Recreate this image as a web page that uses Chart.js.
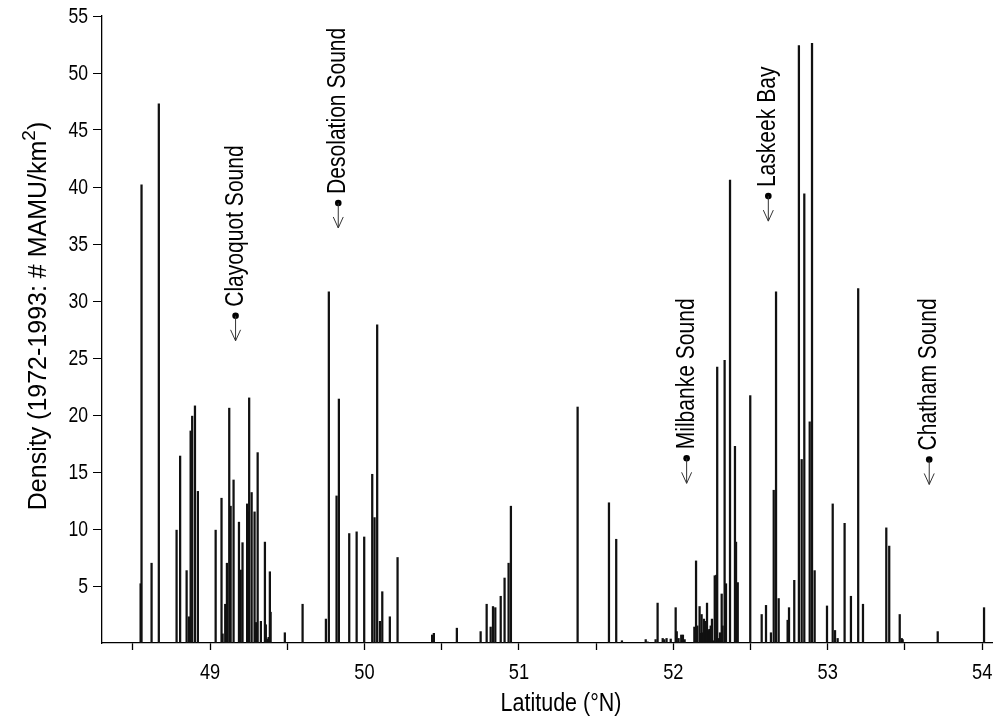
<!DOCTYPE html>
<html>
<head>
<meta charset="utf-8">
<script src="https://cdn.jsdelivr.net/npm/chart.js@4/dist/chart.umd.min.js"></script>
<style>
  html, body { margin: 0; padding: 0; background: #fff; }
  #wrap { width: 993px; height: 718px; position: relative; }
</style>
</head>
<body>
<div id="wrap"><canvas id="densityChart"></canvas></div>
<script>
// latitude (deg N) of each survey block and its density (# MAMU/km2)
const latitudes = [
  48.550, 48.556, 48.621, 48.668, 48.783, 48.806, 48.848, 48.863, 48.874, 48.884,
  48.902, 48.921, 49.036, 49.074, 49.081, 49.098, 49.109, 49.124, 49.133, 49.152,
  49.187, 49.198, 49.210, 49.240, 49.249, 49.253, 49.269, 49.288, 49.297, 49.308,
  49.329, 49.355, 49.361, 49.372, 49.379, 49.387, 49.392, 49.484, 49.599, 49.750,
  49.769, 49.819, 49.834, 49.901, 49.949, 49.998, 50.050, 50.065, 50.082, 50.100,
  50.115, 50.164, 50.214, 50.438, 50.449, 50.598, 50.752, 50.791, 50.817, 50.832,
  50.847, 50.882, 50.907, 50.933, 50.948, 51.380, 51.583, 51.630, 51.667, 51.821,
  51.833, 51.885, 51.898, 51.931, 51.941, 51.956, 51.983, 52.015, 52.022, 52.034,
  52.051, 52.062, 52.073, 52.136, 52.147, 52.155, 52.170, 52.179, 52.183, 52.190,
  52.198, 52.209, 52.218, 52.226, 52.233, 52.242, 52.250, 52.258, 52.268, 52.278,
  52.284, 52.293, 52.302, 52.313, 52.319, 52.332, 52.341, 52.367, 52.399, 52.406,
  52.417, 52.498, 52.572, 52.600, 52.632, 52.650, 52.665, 52.682, 52.740, 52.749,
  52.783, 52.813, 52.831, 52.848, 52.883, 52.898, 52.915, 52.995, 53.032, 53.047,
  53.064, 53.109, 53.150, 53.197, 53.228, 53.379, 53.398, 53.466, 53.479, 53.485,
  53.712, 54.012
];
const densities = [
  5.2, 40.2, 7.0, 47.3, 9.9, 16.4, 6.35, 2.3, 18.6, 19.9,
  20.8, 13.3, 9.9, 12.7, 0.8, 3.4, 7.0, 20.6, 12.0, 14.3,
  10.6, 6.4, 8.8, 12.2, 11.5, 21.5, 13.2, 11.5, 1.8, 16.7,
  1.9, 8.85, 1.6, 0.35, 0.5, 6.25, 2.7, 0.9, 3.4, 2.1,
  30.8, 12.9, 21.4, 9.6, 9.75, 9.3, 14.8, 11.0, 27.9, 1.9,
  4.5, 2.3, 7.5, 0.7, 0.85, 1.3, 1.0, 3.4, 1.4, 3.2,
  3.1, 4.1, 5.7, 7.0, 12.0, 20.7, 12.3, 9.1, 0.2, 0.3,
  0.1, 0.3, 3.5, 0.4, 0.3, 0.4, 0.35, 3.1, 1.0, 0.4,
  0.7, 0.7, 0.3, 1.4, 7.2, 1.5, 3.2, 0.85, 2.5, 0.9,
  2.1, 1.9, 3.5, 1.1, 1.2, 1.5, 2.1, 0.2, 5.9, 5.95,
  24.2, 0.4, 0.9, 4.3, 1.5, 24.8, 5.2, 40.6, 17.25, 8.85,
  5.3, 21.7, 2.5, 3.3, 0.9, 13.4, 30.8, 3.9, 2.0, 3.1,
  5.5, 52.4, 16.1, 39.4, 19.4, 52.6, 6.35, 3.25, 12.2, 1.1,
  0.4, 10.5, 4.1, 31.1, 3.4, 10.1, 8.5, 2.5, 0.4, 0.3,
  1.0, 3.1
];

const xTickValues = [48.5, 49, 49.5, 50, 50.5, 51, 51.5, 52, 52.5, 53, 53.5, 54];
const xTickLabels = ['', '49', '', '50', '', '51', '', '52', '', '53', '', '54'];
const yTickValues = [5, 10, 15, 20, 25, 30, 35, 40, 45, 50, 55];

// marked sounds: name, latitude of the marker, density level of the dot
const siteNames = ['Clayoquot Sound', 'Desolation Sound', 'Milbanke Sound', 'Laskeek Bay', 'Chatham Sound'];
const siteLats = [49.165, 49.83, 52.086, 52.615, 53.657];
const siteLevels = [28.7, 38.6, 16.2, 39.2, 16.1];

const FONT = '"Liberation Sans", Arial, sans-serif';

// text in the original figure is a narrow face, so squeeze along the reading direction
function squeezedText(ctx, text, px, py, k, angle) {
    ctx.save();
    ctx.translate(px, py);
    if (angle) ctx.rotate(angle);
    ctx.scale(k, 1);
    ctx.fillText(text, 0, 0);
    ctx.restore();
}

const figureText = {
    id: 'figureText',
    afterDraw(chart) {
        const { ctx, chartArea } = chart;
        const xs = chart.scales.x;
        const ys = chart.scales.y;
        ctx.save();
        ctx.fillStyle = '#000';

        // y tick labels
        ctx.font = '22px ' + FONT;
        ctx.textAlign = 'right';
        ctx.textBaseline = 'middle';
        yTickValues.forEach(v => {
            squeezedText(ctx, String(v), chartArea.left - 14, ys.getPixelForValue(v) + 1, 0.8);
        });

        // x tick labels
        ctx.textAlign = 'center';
        ctx.textBaseline = 'alphabetic';
        xTickValues.forEach((v, i) => {
            if (xTickLabels[i]) squeezedText(ctx, xTickLabels[i], xs.getPixelForValue(v), 679, 0.83);
        });

        // x title
        ctx.font = '25px ' + FONT;
        squeezedText(ctx, 'Latitude (°N)', 561, 711, 0.86);

        // y title with superscript
        const part1 = 'Density (1972-1993: # MAMU/km';
        ctx.font = '25px ' + FONT;
        const w1 = ctx.measureText(part1).width;
        ctx.font = '19px ' + FONT;
        const w2 = ctx.measureText('2').width;
        ctx.font = '25px ' + FONT;
        const w3 = ctx.measureText(')').width;
        const total = w1 + w2 + w3;
        ctx.save();
        ctx.translate(46, 316 + total / 2);
        ctx.rotate(-Math.PI / 2);
        ctx.textAlign = 'left';
        ctx.fillText(part1, 0, 0);
        ctx.font = '19px ' + FONT;
        ctx.fillText('2', w1, -11);
        ctx.font = '25px ' + FONT;
        ctx.fillText(')', w1 + w2, 0);
        ctx.restore();

        // site markers: label, dot and arrow
        siteNames.forEach((name, i) => {
            const px = xs.getPixelForValue(siteLats[i]);
            const py = ys.getPixelForValue(siteLevels[i]);
            ctx.font = '26px ' + FONT;
            ctx.textAlign = 'left';
            ctx.textBaseline = 'middle';
            squeezedText(ctx, name, px, py - 9, 0.81, -Math.PI / 2);

            ctx.beginPath();
            ctx.arc(px, py, 3.3, 0, Math.PI * 2);
            ctx.fill();

            const tip = py + 25;
            ctx.strokeStyle = '#333';
            ctx.lineWidth = 1;
            ctx.beginPath();
            ctx.moveTo(px, py);
            ctx.lineTo(px, tip);
            ctx.moveTo(px - 5, tip - 11);
            ctx.lineTo(px, tip);
            ctx.lineTo(px + 5, tip - 11);
            ctx.stroke();
        });

        ctx.restore();
    }
};

const points = latitudes.map((lat, i) => ({ x: lat, y: densities[i] }));

new Chart(document.getElementById('densityChart').getContext('2d'), {
    type: 'bar',
    data: {
        datasets: [{
            data: points,
            backgroundColor: '#111',
            borderWidth: 0,
            barThickness: 1.6,
            grouped: false
        }]
    },
    options: {
        responsive: true,
        maintainAspectRatio: false,
        animation: false,
        devicePixelRatio: 1,
        layout: { padding: { left: 93, top: 16, right: 0, bottom: 68 } },
        plugins: {
            legend: { display: false },
            tooltip: { enabled: false }
        },
        scales: {
            x: {
                type: 'linear',
                min: 48.3,
                max: 54.07,
                offset: false,
                afterBuildTicks: scale => { scale.ticks = xTickValues.map(v => ({ value: v })); },
                ticks: { display: false },
                grid: {
                    drawOnChartArea: false,
                    offset: false,
                    color: '#000',
                    tickLength: 7,
                    tickWidth: 1.3
                },
                border: { display: true, color: '#000', width: 1.3 }
            },
            y: {
                min: 0,
                max: 55,
                afterBuildTicks: scale => { scale.ticks = yTickValues.map(v => ({ value: v })); },
                ticks: { display: false },
                grid: {
                    drawOnChartArea: false,
                    color: '#000',
                    tickLength: 9,
                    tickWidth: 1
                },
                border: { display: true, color: '#000', width: 1.3 }
            }
        }
    },
    plugins: [figureText]
});
</script>
</body>
</html>
